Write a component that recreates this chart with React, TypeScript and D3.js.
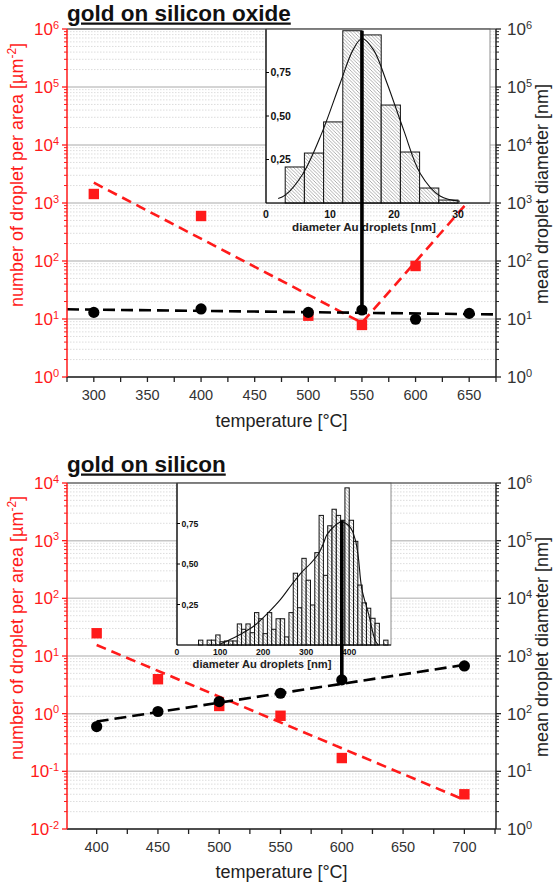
import React from 'react';
import * as d3 from 'd3';

const W = 553;
const H = 889;
const FONT = "'Liberation Sans', Arial, Helvetica, sans-serif";
const RED = '#ff1a1a';

// ---------- Panel 1 : gold on silicon oxide ----------
const p1Title = 'gold on silicon oxide';
const p1DensityTemps = [300, 400, 500, 550, 600];
const p1Density = [1430, 597, 11.4, 7.9, 82];
const p1DiameterTemps = [300, 400, 500, 550, 600, 650];
const p1Diameter = [13.0, 14.9, 13.0, 14.3, 9.9, 12.5];
const p1DensityFitTemps = [300, 550, 650];
const p1DensityFit = [2240, 8.6, 1100];
const p1DiameterFitTemps = [275, 675];
const p1DiameterFit = [14.7, 12.0];
const p1XLabels = [300, 350, 400, 450, 500, 550, 600, 650];
const p1LeftExps = [0, 1, 2, 3, 4, 5, 6];
const p1RightExps = [0, 1, 2, 3, 4, 5, 6];
const p1HistBins = [3, 6, 9, 12, 15, 18, 21, 24, 27];
const p1HistValues = [0.207, 0.287, 0.466, 0.99, 0.966, 0.563, 0.293, 0.086, 0.017];
const p1HistWidth = 3;
const p1CurveX = [1.9, 3, 5.8, 8.7, 11.6, 13.6, 15.0, 16.8, 18.9, 21.5, 24.1, 27.2, 30.3];
const p1CurveY = [0.026, 0.045, 0.17, 0.4, 0.69, 0.88, 0.945, 0.88, 0.69, 0.42, 0.17, 0.04, 0.01];
const p1InsetXLabels = [0, 10, 20, 30];
const p1PeakTemp = 550;
const p1PeakLineTop = 0.99;

// ---------- Panel 2 : gold on silicon ----------
const p2Title = 'gold on silicon';
const p2DensityTemps = [400, 450, 500, 550, 600, 700];
const p2Density = [24.8, 3.96, 1.36, 0.92, 0.17, 0.04];
const p2DiameterTemps = [400, 450, 500, 550, 600, 700];
const p2Diameter = [59.8, 109, 162, 226, 385, 673];
const p2DensityFitTemps = [400, 700];
const p2DensityFit = [15.5, 0.032];
const p2DiameterFitTemps = [400, 700];
const p2DiameterFit = [73, 701];
const p2XLabels = [400, 450, 500, 550, 600, 650, 700];
const p2LeftExps = [-2, -1, 0, 1, 2, 3, 4];
const p2RightExps = [0, 1, 2, 3, 4, 5, 6];
const p2HistBins = [50, 60, 70, 80, 90, 100, 110, 120, 130, 140, 150, 160, 170, 180, 190, 200, 210, 220, 230, 240, 250, 260, 270, 280, 290, 300, 310, 320, 330, 340, 350, 360, 370, 380, 390, 400, 410, 420, 430, 440, 450, 460, 470, 480];
const p2HistValues = [0.03, 0, 0.03, 0.03, 0.062, 0.02, 0.025, 0.025, 0.025, 0.13, 0.097, 0.13, 0.076, 0.2, 0.162, 0.07, 0.2, 0.097, 0.162, 0.162, 0.05, 0.2, 0.443, 0.23, 0.535, 0.4, 0.247, 0.57, 0.8, 0.43, 0.736, 0.838, 0.8, 0.77, 0.97, 0.77, 0.64, 0.37, 0.26, 0.227, 0.165, 0.134, 0, 0.03];
const p2HistWidth = 10;
const p2CurveX = [100, 120, 150, 180, 212, 240, 267, 290, 309, 329, 340, 348, 363, 382, 402, 414, 421, 429, 445, 460, 467];
const p2CurveY = [0.005, 0.03, 0.07, 0.12, 0.2, 0.28, 0.375, 0.45, 0.5, 0.565, 0.626, 0.68, 0.727, 0.76, 0.727, 0.65, 0.545, 0.35, 0.19, 0.03, 0];
const p2InsetXLabels = [0, 100, 200, 300, 400];
const p2PeakTemp = 600;
const p2PeakLineTop = 0.77;

const insetYLabels = [0.25, 0.5, 0.75];
const xAxisTitle = 'temperature [°C]';
const insetXTitle = 'diameter Au droplets [nm]';
const rightTitle = 'mean droplet diameter [nm]';

const zip = (a: number[], b: number[]) => a.map((v, i) => [v, b[i]] as [number, number]);

const panels = [
  {
    id: 'p1',
    title: p1Title,
    titleY: 20.5,
    left: 67, right: 496, top: 29, bottom: 377,
    xDomain: [275, 675],
    leftDomain: [1, 1e6],
    rightDomain: [1, 1e6],
    leftExps: p1LeftExps,
    rightExps: p1RightExps,
    xLabels: p1XLabels,
    density: zip(p1DensityTemps, p1Density),
    diameter: zip(p1DiameterTemps, p1Diameter),
    densityFit: zip(p1DensityFitTemps, p1DensityFit),
    diameterFit: zip(p1DiameterFitTemps, p1DiameterFit),
    inset: { x0: 266, x1: 490, y0: 29, y1: 203, xDomain: [0, 35], tickFont: 10.5, titleFont: 11.6, titleX: 364, titleY: 231, xLabelY: 217.5 },
    bins: zip(p1HistBins, p1HistValues),
    binWidth: p1HistWidth,
    curve: zip(p1CurveX, p1CurveY),
    insetXLabels: p1InsetXLabels,
    peakTemp: p1PeakTemp,
    peakLineTop: p1PeakLineTop,
    leftTitleY: 175,
    rightTitleY: 194,
    xTitleY: 427,
  },
  {
    id: 'p2',
    title: p2Title,
    titleY: 471.5,
    left: 67, right: 496, top: 483, bottom: 829,
    xDomain: [375.8, 725.8],
    leftDomain: [1e-2, 1e4],
    rightDomain: [1, 1e6],
    leftExps: p2LeftExps,
    rightExps: p2RightExps,
    xLabels: p2XLabels,
    density: zip(p2DensityTemps, p2Density),
    diameter: zip(p2DiameterTemps, p2Diameter),
    densityFit: zip(p2DensityFitTemps, p2DensityFit),
    diameterFit: zip(p2DiameterFitTemps, p2DiameterFit),
    inset: { x0: 177, x1: 391, y0: 483, y1: 645, xDomain: [0, 497], tickFont: 8.6, titleFont: 11.2, titleX: 262, titleY: 668, xLabelY: 655 },
    bins: zip(p2HistBins, p2HistValues),
    binWidth: p2HistWidth,
    curve: zip(p2CurveX, p2CurveY),
    insetXLabels: p2InsetXLabels,
    peakTemp: p2PeakTemp,
    peakLineTop: p2PeakLineTop,
    leftTitleY: 628,
    rightTitleY: 647,
    xTitleY: 878,
  },
];

function Pow({ e }: { e: number }) {
  return (
    <>
      <tspan>10</tspan>
      <tspan dy={-6.5} fontSize={11}>{String(e)}</tspan>
    </>
  );
}

function Panel({ c }: { c: any }) {
  const x = d3.scaleLinear().domain(c.xDomain).range([c.left, c.right]);
  const yL = d3.scaleLog().domain(c.leftDomain).range([c.bottom, c.top]);
  const yR = d3.scaleLog().domain(c.rightDomain).range([c.bottom, c.top]);
  const ix = d3.scaleLinear().domain(c.inset.xDomain).range([c.inset.x0, c.inset.x1]);
  const iy = d3.scaleLinear().domain([0, 1]).range([c.inset.y1, c.inset.y0]);

  const leftMajor: number[] = c.leftExps.map((e: number) => Math.pow(10, e));
  const leftMinor: number[] = [];
  c.leftExps.slice(0, -1).forEach((e: number) => {
    for (let k = 2; k < 10; k++) leftMinor.push(k * Math.pow(10, e));
  });
  const rightMajor: number[] = c.rightExps.map((e: number) => Math.pow(10, e));
  const rightMinor: number[] = [];
  c.rightExps.slice(0, -1).forEach((e: number) => {
    for (let k = 2; k < 10; k++) rightMinor.push(k * Math.pow(10, e));
  });
  const xTicks = d3.range(Math.ceil(c.xDomain[0] / 25) * 25, c.xDomain[1] + 0.01, 25);

  const lineL = d3.line<[number, number]>().x(d => x(d[0])).y(d => yL(d[1]));
  const lineR = d3.line<[number, number]>().x(d => x(d[0])).y(d => yR(d[1]));
  const curveGen = d3.line<[number, number]>().x(d => ix(d[0])).y(d => iy(d[1])).curve(d3.curveCatmullRom.alpha(0.5));

  const peakDia = c.diameter.find((d: [number, number]) => d[0] === c.peakTemp)[1];
  const patId = `hatch-${c.id}`;

  return (
    <g>
      <defs>
        <pattern id={patId} patternUnits="userSpaceOnUse" width={3.5} height={3.5}>
          <rect width={3.5} height={3.5} fill="#fff" />
          <path d="M-1,-1 L4.5,4.5 M-1,2.5 L1,4.5 M2.5,-1 L4.5,1" stroke="#8a8a8a" strokeWidth={0.7} />
        </pattern>
      </defs>
      {/* minor grid */}
      {leftMinor.map((v, i) => (
        <line key={`mg${i}`} x1={c.left} x2={c.right} y1={yL(v)} y2={yL(v)} stroke="#d4d4d4" strokeWidth={0.8} strokeDasharray="1.5,1.5" />
      ))}
      {/* major grid */}
      {leftMajor.map((v, i) => (
        <line key={`Mg${i}`} x1={c.left} x2={c.right} y1={yL(v)} y2={yL(v)} stroke="#c6c6c6" strokeWidth={1.5} />
      ))}

      {/* density fit + markers */}
      <path d={lineL(c.densityFit) || ''} fill="none" stroke={RED} strokeWidth={2.6} strokeDasharray="10,6" />
      {c.density.map((d: [number, number], i: number) => (
        <rect key={`sq${i}`} x={x(d[0]) - 5.2} y={yL(d[1]) - 5.2} width={10.4} height={10.4} fill={RED} />
      ))}
      {/* diameter fit + markers */}
      <path d={lineR(c.diameterFit) || ''} fill="none" stroke="#000" strokeWidth={2.6} strokeDasharray="12,6" />
      {c.diameter.map((d: [number, number], i: number) => (
        <circle key={`dt${i}`} cx={x(d[0])} cy={yR(d[1])} r={5.6} fill="#000" />
      ))}

      {/* inset */}
      <rect x={c.inset.x0} y={c.inset.y0} width={c.inset.x1 - c.inset.x0} height={c.inset.y1 - c.inset.y0} fill="#fff" stroke="#8c8c8c" strokeWidth={1} />
      {c.bins.filter((b: [number, number]) => b[1] > 0).map((b: [number, number], i: number) => (
        <rect key={`b${i}`} x={ix(b[0])} y={iy(b[1])} width={ix(b[0] + c.binWidth) - ix(b[0])} height={iy(0) - iy(b[1])}
          fill={`url(#${patId})`} stroke="#111" strokeWidth={1} />
      ))}
      <path d={curveGen(c.curve) || ''} fill="none" stroke="#111" strokeWidth={1.1} />
      <line x1={c.inset.x0} x2={c.inset.x0} y1={c.inset.y0} y2={c.inset.y1} stroke="#000" strokeWidth={1.2} />
      <line x1={c.inset.x0} x2={c.inset.x1} y1={c.inset.y1} y2={c.inset.y1} stroke="#000" strokeWidth={1.2} />
      {insetYLabels.map((v, i) => (
        <g key={`iy${i}`}>
          <line x1={c.inset.x0} x2={c.inset.x0 + 3} y1={iy(v)} y2={iy(v)} stroke="#000" strokeWidth={1} />
          <text x={c.inset.x0 + 4.5} y={iy(v)} dy="0.36em" fontSize={c.inset.tickFont} fontWeight="bold" fill="#111" fontFamily={FONT}>
            {String(v.toFixed(2)).replace('.', ',')}
          </text>
        </g>
      ))}
      {c.insetXLabels.map((v: number, i: number) => (
        <text key={`ix${i}`} x={ix(v)} y={c.inset.xLabelY} textAnchor="middle" fontSize={c.inset.tickFont} fontWeight="bold" fill="#111" fontFamily={FONT}>
          {v}
        </text>
      ))}
      <text x={c.inset.titleX} y={c.inset.titleY} textAnchor="middle" fontSize={c.inset.titleFont} fontWeight="bold" fill="#222" fontFamily={FONT}>
        {insetXTitle}
      </text>

      {/* peak line */}
      <line x1={x(c.peakTemp)} x2={x(c.peakTemp)} y1={iy(c.peakLineTop)} y2={yR(peakDia)} stroke="#000" strokeWidth={3.6} />

      {/* frame */}
      <line x1={c.left} x2={c.right} y1={c.top} y2={c.top} stroke="#444" strokeWidth={1.2} />
      <line x1={c.left} x2={c.right} y1={c.bottom} y2={c.bottom} stroke="#222" strokeWidth={1.5} />
      <line x1={c.right} x2={c.right} y1={c.top} y2={c.bottom} stroke="#222" strokeWidth={1.5} />
      <line x1={c.left} x2={c.left} y1={c.top} y2={c.bottom} stroke={RED} strokeWidth={1.5} />

      {/* left ticks */}
      {leftMajor.map((v, i) => (
        <g key={`lt${i}`}>
          <line x1={c.left - 5} x2={c.left} y1={yL(v)} y2={yL(v)} stroke={RED} strokeWidth={1.3} />
          <text x={59} y={yL(v) + 6} textAnchor="end" fontSize={17} fill={RED} fontFamily={FONT}>
            <Pow e={c.leftExps[i]} />
          </text>
        </g>
      ))}
      {leftMinor.map((v, i) => (
        <line key={`lm${i}`} x1={c.left - 3} x2={c.left} y1={yL(v)} y2={yL(v)} stroke={RED} strokeWidth={1} />
      ))}
      {/* right ticks */}
      {rightMajor.map((v, i) => (
        <g key={`rt${i}`}>
          <line x1={c.right} x2={c.right + 5} y1={yR(v)} y2={yR(v)} stroke="#222" strokeWidth={1.3} />
          <text x={507} y={yR(v) + 6} textAnchor="start" fontSize={17} fill="#333" fontFamily={FONT}>
            <Pow e={c.rightExps[i]} />
          </text>
        </g>
      ))}
      {rightMinor.map((v, i) => (
        <line key={`rm${i}`} x1={c.right} x2={c.right + 3} y1={yR(v)} y2={yR(v)} stroke="#222" strokeWidth={1} />
      ))}
      {/* bottom ticks */}
      {xTicks.map((v, i) => (
        <line key={`bt${i}`} x1={x(v)} x2={x(v)} y1={c.bottom} y2={c.bottom + 5} stroke="#222" strokeWidth={1.3} />
      ))}
      {c.xLabels.map((v: number, i: number) => (
        <text key={`bl${i}`} x={x(v)} y={c.bottom + 23} textAnchor="middle" fontSize={14.5} fill="#333" fontFamily={FONT}>
          {v}
        </text>
      ))}

      {/* axis titles */}
      <text x={(c.left + c.right) / 2} y={c.xTitleY} textAnchor="middle" fontSize={18} fill="#222" fontFamily={FONT}>
        {xAxisTitle}
      </text>
      <text transform={`translate(17,${c.leftTitleY}) rotate(-90)`} textAnchor="middle" dy="0.35em" fontSize={18} fill={RED} fontFamily={FONT}>
        number of droplet per area [µm<tspan dy={-7} fontSize={12}>-2</tspan><tspan dy={7}>]</tspan>
      </text>
      <text transform={`translate(542,${c.rightTitleY}) rotate(-90)`} textAnchor="middle" dy="0.35em" fontSize={18} fill="#222" fontFamily={FONT}>
        {rightTitle}
      </text>

      {/* title */}
      <text x={c.left} y={c.titleY} fontSize={22.5} fontWeight="bold" fill="#111" fontFamily={FONT} textDecoration="underline">
        {c.title}
      </text>
    </g>
  );
}

export default function App() {
  return (
    <svg width={W} height={H} viewBox={`0 0 ${W} ${H}`} style={{ position: 'absolute', left: 0, top: 0, background: '#fff' }}>
      <rect width={W} height={H} fill="#fff" />
      {panels.map(p => (
        <Panel key={p.id} c={p} />
      ))}
    </svg>
  );
}
